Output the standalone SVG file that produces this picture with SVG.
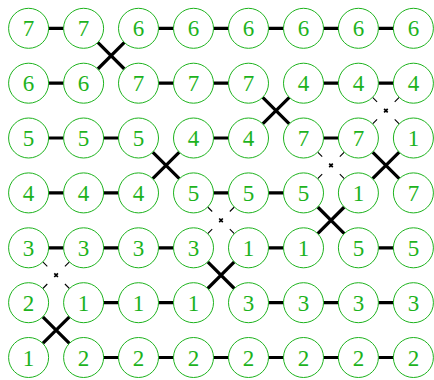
<svg xmlns="http://www.w3.org/2000/svg" xmlns:xlink="http://www.w3.org/1999/xlink" width="434" height="380" viewBox="0 0 434 380">
<style>
.n circle{fill:#fff;stroke:#1db31d;stroke-width:1}
.n text{fill:#1db31d;font-family:"Liberation Serif","DejaVu Serif",serif;font-size:23px;text-anchor:middle}
.h{stroke:#000;stroke-width:3.2;fill:none}
.x{stroke:#000;stroke-width:3.2;fill:none}
.d{stroke:#000;stroke-width:1.1;fill:none}
.dx{stroke:#000;stroke-width:1.7;fill:none}
</style>
<defs>
<g id="xc"><path class="x" d="M-13.3,-13.3L13.3,13.3M13.3,-13.3L-13.3,13.3"/></g>
<g id="dc"><path class="d" d="M-13.3,-13.3L-8.8,-8.8M13.3,-13.3L8.8,-8.8M-13.3,13.3L-8.8,8.8M13.3,13.3L8.8,8.8"/><path class="dx" d="M-1.8,-1.8L1.8,1.8M1.8,-1.8L-1.8,1.8"/></g>
</defs>
<g id="connectors">
<path class="h" d="M48.6,28.3H63.6M158.5,28.3H173.5M213.5,28.3H228.5M268.5,28.3H283.5M323.5,28.3H338.4M378.4,28.3H393.4"/>
<path class="h" d="M48.6,83.2H63.6M158.5,83.2H173.5M213.5,83.2H228.5M323.5,83.2H338.4M378.4,83.2H393.4"/>
<path class="h" d="M48.6,138H63.6M103.6,138H118.5M213.5,138H228.5M323.5,138H338.4"/>
<path class="h" d="M48.6,192.9H63.6M103.6,192.9H118.5M213.5,192.9H228.5M268.5,192.9H283.5"/>
<path class="h" d="M48.6,247.8H63.6M103.6,247.8H118.5M158.5,247.8H173.5M268.5,247.8H283.5M378.4,247.8H393.4"/>
<path class="h" d="M103.6,302.7H118.5M158.5,302.7H173.5M268.5,302.7H283.5M323.5,302.7H338.4M378.4,302.7H393.4"/>
<path class="h" d="M103.6,357.5H118.5M158.5,357.5H173.5M213.5,357.5H228.5M268.5,357.5H283.5M323.5,357.5H338.4M378.4,357.5H393.4"/>
<use xlink:href="#xc" x="111.1" y="55.7"/>
<use xlink:href="#xc" x="276" y="110.6"/>
<use xlink:href="#xc" x="166" y="165.4"/>
<use xlink:href="#xc" x="385.9" y="165.4"/>
<use xlink:href="#xc" x="331" y="220.3"/>
<use xlink:href="#xc" x="221" y="275.2"/>
<use xlink:href="#xc" x="56.1" y="330.1"/>
<use xlink:href="#dc" x="385.9" y="110.6"/>
<use xlink:href="#dc" x="331" y="165.4"/>
<use xlink:href="#dc" x="221" y="220.3"/>
<use xlink:href="#dc" x="56.1" y="275.2"/>
</g>
<g id="nodes">
<g id="n1-1" class="n"><circle cx="28.6" cy="28.3" r="20"/><text x="28.6" y="36.3">7</text></g>
<g id="n1-2" class="n"><circle cx="83.6" cy="28.3" r="20"/><text x="83.6" y="36.3">7</text></g>
<g id="n1-3" class="n"><circle cx="138.5" cy="28.3" r="20"/><text x="138.5" y="36.3">6</text></g>
<g id="n1-4" class="n"><circle cx="193.5" cy="28.3" r="20"/><text x="193.5" y="36.3">6</text></g>
<g id="n1-5" class="n"><circle cx="248.5" cy="28.3" r="20"/><text x="248.5" y="36.3">6</text></g>
<g id="n1-6" class="n"><circle cx="303.5" cy="28.3" r="20"/><text x="303.5" y="36.3">6</text></g>
<g id="n1-7" class="n"><circle cx="358.4" cy="28.3" r="20"/><text x="358.4" y="36.3">6</text></g>
<g id="n1-8" class="n"><circle cx="413.4" cy="28.3" r="20"/><text x="413.4" y="36.3">6</text></g>
<g id="n2-1" class="n"><circle cx="28.6" cy="83.2" r="20"/><text x="28.6" y="91.2">6</text></g>
<g id="n2-2" class="n"><circle cx="83.6" cy="83.2" r="20"/><text x="83.6" y="91.2">6</text></g>
<g id="n2-3" class="n"><circle cx="138.5" cy="83.2" r="20"/><text x="138.5" y="91.2">7</text></g>
<g id="n2-4" class="n"><circle cx="193.5" cy="83.2" r="20"/><text x="193.5" y="91.2">7</text></g>
<g id="n2-5" class="n"><circle cx="248.5" cy="83.2" r="20"/><text x="248.5" y="91.2">7</text></g>
<g id="n2-6" class="n"><circle cx="303.5" cy="83.2" r="20"/><text x="303.5" y="91.2">4</text></g>
<g id="n2-7" class="n"><circle cx="358.4" cy="83.2" r="20"/><text x="358.4" y="91.2">4</text></g>
<g id="n2-8" class="n"><circle cx="413.4" cy="83.2" r="20"/><text x="413.4" y="91.2">4</text></g>
<g id="n3-1" class="n"><circle cx="28.6" cy="138" r="20"/><text x="28.6" y="146">5</text></g>
<g id="n3-2" class="n"><circle cx="83.6" cy="138" r="20"/><text x="83.6" y="146">5</text></g>
<g id="n3-3" class="n"><circle cx="138.5" cy="138" r="20"/><text x="138.5" y="146">5</text></g>
<g id="n3-4" class="n"><circle cx="193.5" cy="138" r="20"/><text x="193.5" y="146">4</text></g>
<g id="n3-5" class="n"><circle cx="248.5" cy="138" r="20"/><text x="248.5" y="146">4</text></g>
<g id="n3-6" class="n"><circle cx="303.5" cy="138" r="20"/><text x="303.5" y="146">7</text></g>
<g id="n3-7" class="n"><circle cx="358.4" cy="138" r="20"/><text x="358.4" y="146">7</text></g>
<g id="n3-8" class="n"><circle cx="413.4" cy="138" r="20"/><text x="413.4" y="146">1</text></g>
<g id="n4-1" class="n"><circle cx="28.6" cy="192.9" r="20"/><text x="28.6" y="200.9">4</text></g>
<g id="n4-2" class="n"><circle cx="83.6" cy="192.9" r="20"/><text x="83.6" y="200.9">4</text></g>
<g id="n4-3" class="n"><circle cx="138.5" cy="192.9" r="20"/><text x="138.5" y="200.9">4</text></g>
<g id="n4-4" class="n"><circle cx="193.5" cy="192.9" r="20"/><text x="193.5" y="200.9">5</text></g>
<g id="n4-5" class="n"><circle cx="248.5" cy="192.9" r="20"/><text x="248.5" y="200.9">5</text></g>
<g id="n4-6" class="n"><circle cx="303.5" cy="192.9" r="20"/><text x="303.5" y="200.9">5</text></g>
<g id="n4-7" class="n"><circle cx="358.4" cy="192.9" r="20"/><text x="358.4" y="200.9">1</text></g>
<g id="n4-8" class="n"><circle cx="413.4" cy="192.9" r="20"/><text x="413.4" y="200.9">7</text></g>
<g id="n5-1" class="n"><circle cx="28.6" cy="247.8" r="20"/><text x="28.6" y="255.8">3</text></g>
<g id="n5-2" class="n"><circle cx="83.6" cy="247.8" r="20"/><text x="83.6" y="255.8">3</text></g>
<g id="n5-3" class="n"><circle cx="138.5" cy="247.8" r="20"/><text x="138.5" y="255.8">3</text></g>
<g id="n5-4" class="n"><circle cx="193.5" cy="247.8" r="20"/><text x="193.5" y="255.8">3</text></g>
<g id="n5-5" class="n"><circle cx="248.5" cy="247.8" r="20"/><text x="248.5" y="255.8">1</text></g>
<g id="n5-6" class="n"><circle cx="303.5" cy="247.8" r="20"/><text x="303.5" y="255.8">1</text></g>
<g id="n5-7" class="n"><circle cx="358.4" cy="247.8" r="20"/><text x="358.4" y="255.8">5</text></g>
<g id="n5-8" class="n"><circle cx="413.4" cy="247.8" r="20"/><text x="413.4" y="255.8">5</text></g>
<g id="n6-1" class="n"><circle cx="28.6" cy="302.7" r="20"/><text x="28.6" y="310.7">2</text></g>
<g id="n6-2" class="n"><circle cx="83.6" cy="302.7" r="20"/><text x="83.6" y="310.7">1</text></g>
<g id="n6-3" class="n"><circle cx="138.5" cy="302.7" r="20"/><text x="138.5" y="310.7">1</text></g>
<g id="n6-4" class="n"><circle cx="193.5" cy="302.7" r="20"/><text x="193.5" y="310.7">1</text></g>
<g id="n6-5" class="n"><circle cx="248.5" cy="302.7" r="20"/><text x="248.5" y="310.7">3</text></g>
<g id="n6-6" class="n"><circle cx="303.5" cy="302.7" r="20"/><text x="303.5" y="310.7">3</text></g>
<g id="n6-7" class="n"><circle cx="358.4" cy="302.7" r="20"/><text x="358.4" y="310.7">3</text></g>
<g id="n6-8" class="n"><circle cx="413.4" cy="302.7" r="20"/><text x="413.4" y="310.7">3</text></g>
<g id="n7-1" class="n"><circle cx="28.6" cy="357.5" r="20"/><text x="28.6" y="365.5">1</text></g>
<g id="n7-2" class="n"><circle cx="83.6" cy="357.5" r="20"/><text x="83.6" y="365.5">2</text></g>
<g id="n7-3" class="n"><circle cx="138.5" cy="357.5" r="20"/><text x="138.5" y="365.5">2</text></g>
<g id="n7-4" class="n"><circle cx="193.5" cy="357.5" r="20"/><text x="193.5" y="365.5">2</text></g>
<g id="n7-5" class="n"><circle cx="248.5" cy="357.5" r="20"/><text x="248.5" y="365.5">2</text></g>
<g id="n7-6" class="n"><circle cx="303.5" cy="357.5" r="20"/><text x="303.5" y="365.5">2</text></g>
<g id="n7-7" class="n"><circle cx="358.4" cy="357.5" r="20"/><text x="358.4" y="365.5">2</text></g>
<g id="n7-8" class="n"><circle cx="413.4" cy="357.5" r="20"/><text x="413.4" y="365.5">2</text></g>
</g>
</svg>
